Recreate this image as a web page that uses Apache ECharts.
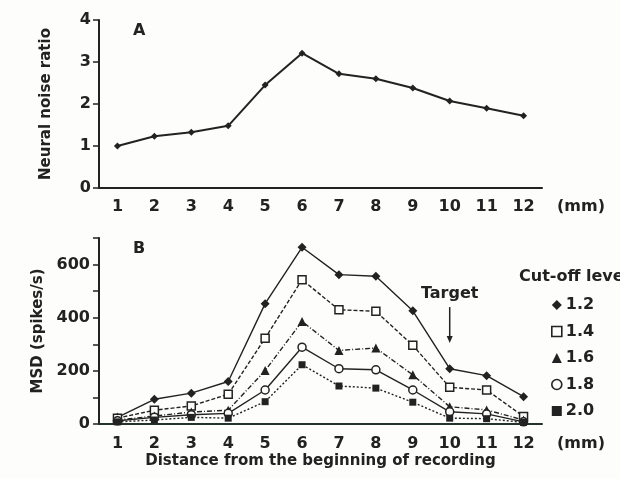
<!DOCTYPE html>
<html>
<head>
<meta charset="utf-8">
<script src="https://cdn.jsdelivr.net/npm/echarts@6/dist/echarts.min.js"></script>
<style>
  html, body { margin: 0; padding: 0; background: #fdfdfb; }
  #chart { width: 620px; height: 479px; }
</style>
</head>
<body>
<div id="chart"></div>
<script>
// Recording positions along the track (mm)
const distances = ['1', '2', '3', '4', '5', '6', '7', '8', '9', '10', '11', '12'];

// Panel A: neural noise ratio at each position
const noiseRatio = [1.0, 1.23, 1.33, 1.48, 2.45, 3.21, 2.72, 2.6, 2.38, 2.07, 1.9, 1.72];

// Panel B: MSD (spikes/s) for each cut-off level
const cutoffLevels = ['1.2', '1.4', '1.6', '1.8', '2.0'];
const msd12 = [25, 93, 116, 160, 453, 665, 562, 556, 426, 208, 182, 103];
const msd14 = [22, 52, 68, 112, 323, 543, 430, 424, 296, 138, 128, 28];
const msd16 = [15, 30, 45, 52, 201, 386, 277, 286, 185, 65, 53, 15];
const msd18 = [12, 25, 35, 40, 128, 289, 208, 204, 128, 46, 38, 8];
const msd20 = [8, 15, 25, 22, 84, 223, 143, 135, 82, 22, 20, 6];

// Axis tick values
const ticksA = [0, 1, 2, 3, 4];
const ticksB = [0, 200, 400, 600];

const INK = '#222';
const PAPER = '#fdfdfb';
const FONT = 'DejaVu Sans';
const FONT_CSS = 'bold 16px "DejaVu Sans"';
const chart = echarts.init(document.getElementById('chart'), null, { renderer: 'canvas' });

const axisText = { color: INK, fontFamily: FONT, fontSize: 16, fontWeight: 'bold' };
const nameText = { color: INK, fontFamily: FONT, fontSize: 15, fontWeight: 'bold' };

function lineSeries(name, data, symbol, filled, dash, size) {
  return {
    name: name,
    type: 'line',
    xAxisIndex: 1,
    yAxisIndex: 1,
    data: data,
    symbol: symbol,
    symbolSize: size,
    showAllSymbol: true,
    lineStyle: { color: INK, width: 1.4, type: dash },
    itemStyle: {
      color: filled ? INK : PAPER,
      borderColor: INK,
      borderWidth: filled ? 0 : 1.5
    },
    emphasis: { disabled: true },
    z: 3
  };
}

const option = {
  backgroundColor: PAPER,
  animation: false,
  grid: [
    { left: 99, top: 20, width: 443, height: 168 },
    { left: 99, top: 238, width: 443, height: 186 }
  ],
  xAxis: [
    {
      gridIndex: 0,
      type: 'category',
      data: distances,
      boundaryGap: true,
      axisLine: { lineStyle: { color: INK, width: 2 } },
      axisTick: { show: false },
      axisLabel: Object.assign({ margin: 11 }, axisText)
    },
    {
      gridIndex: 1,
      type: 'category',
      data: distances,
      boundaryGap: true,
      axisLine: { lineStyle: { color: '#24332f', width: 2 } },
      axisTick: { show: false },
      axisLabel: Object.assign({ margin: 12 }, axisText),
      name: 'Distance from the beginning of recording',
      nameLocation: 'middle',
      nameGap: 30,
      nameTextStyle: nameText
    }
  ],
  yAxis: [
    {
      gridIndex: 0,
      type: 'value',
      min: ticksA[0],
      max: ticksA[ticksA.length - 1],
      interval: 1,
      splitLine: { show: false },
      axisLine: { show: true, lineStyle: { color: INK, width: 2 } },
      axisTick: { show: true, length: 6, lineStyle: { color: INK, width: 1.5 } },
      axisLabel: Object.assign({ margin: 8 }, axisText),
      name: 'Neural noise ratio',
      nameLocation: 'middle',
      nameRotate: 90,
      nameGap: 45,
      nameTextStyle: nameText
    },
    {
      gridIndex: 1,
      type: 'value',
      min: 0,
      max: 700,
      interval: 100,
      splitLine: { show: false },
      axisLine: { show: true, lineStyle: { color: INK, width: 2 } },
      axisTick: { show: true, length: 6, lineStyle: { color: INK, width: 1.5 } },
      axisLabel: Object.assign({
        margin: 9,
        formatter: function (v) { return ticksB.indexOf(v) >= 0 ? String(v) : ''; }
      }, axisText),
      name: 'MSD (spikes/s)',
      nameLocation: 'middle',
      nameRotate: 90,
      nameGap: 45,
      nameTextStyle: nameText
    }
  ],
  legend: {
    orient: 'vertical',
    left: 546,
    top: 292,
    itemWidth: 10,
    itemHeight: 10,
    itemGap: 10.5,
    selectedMode: false,
    textStyle: Object.assign({ padding: [0, 0, 0, -1] }, axisText),
    data: [
      { name: '1.2', icon: 'diamond', itemStyle: { color: INK, borderWidth: 0 } },
      { name: '1.4', icon: 'rect', itemStyle: { color: PAPER, borderColor: INK, borderWidth: 1.6 } },
      { name: '1.6', icon: 'triangle', itemStyle: { color: INK, borderWidth: 0 } },
      { name: '1.8', icon: 'circle', itemStyle: { color: PAPER, borderColor: INK, borderWidth: 1.6 } },
      { name: '2.0', icon: 'rect', itemStyle: { color: INK, borderWidth: 0 } }
    ]
  },
  series: [
    {
      name: 'Neural noise ratio',
      type: 'line',
      xAxisIndex: 0,
      yAxisIndex: 0,
      data: noiseRatio,
      symbol: 'diamond',
      symbolSize: 7,
      lineStyle: { color: INK, width: 2 },
      itemStyle: { color: INK },
      emphasis: { disabled: true }
    },
    lineSeries(cutoffLevels[0], msd12, 'diamond', true, 'solid', 9),
    lineSeries(cutoffLevels[1], msd14, 'rect', false, [4, 2], 8),
    lineSeries(cutoffLevels[2], msd16, 'triangle', true, [5, 2, 1, 2], 9),
    lineSeries(cutoffLevels[3], msd18, 'circle', false, 'solid', 8),
    lineSeries(cutoffLevels[4], msd20, 'rect', true, [2, 2], 7)
  ],
  graphic: [
    { id: 'panelA', type: 'text', left: 133, top: 23, style: { text: 'A', fill: INK, font: FONT_CSS } },
    { id: 'panelB', type: 'text', left: 133, top: 241, style: { text: 'B', fill: INK, font: FONT_CSS } },
    { id: 'unitA', type: 'text', left: 557, top: 199, style: { text: '(mm)', fill: INK, font: FONT_CSS } },
    { id: 'unitB', type: 'text', left: 557, top: 436, style: { text: '(mm)', fill: INK, font: FONT_CSS } },
    { id: 'legendTitle', type: 'text', left: 519, top: 269, style: { text: 'Cut-off level', fill: INK, font: FONT_CSS } }
  ]
};

chart.setOption(option);

// "Target" marker above position 10 in panel B
const arrowStart = chart.convertToPixel({ xAxisIndex: 1, yAxisIndex: 1 }, ['10', 440]);
const arrowTip = chart.convertToPixel({ xAxisIndex: 1, yAxisIndex: 1 }, ['10', 305]);
chart.setOption({
  graphic: [
    { id: 'targetText', type: 'text', x: arrowTip[0], y: arrowStart[1] - 13, style: { text: 'Target', fill: INK, font: FONT_CSS, align: 'center', verticalAlign: 'middle' } },
    { id: 'targetLine', type: 'line', shape: { x1: arrowTip[0], y1: arrowStart[1], x2: arrowTip[0], y2: arrowTip[1] - 4 }, style: { stroke: INK, lineWidth: 1.5 } },
    { id: 'targetHead', type: 'polygon', shape: { points: [[arrowTip[0] - 3, arrowTip[1] - 7], [arrowTip[0] + 3, arrowTip[1] - 7], [arrowTip[0], arrowTip[1]]] }, style: { fill: INK } }
  ]
});
</script>
</body>
</html>
